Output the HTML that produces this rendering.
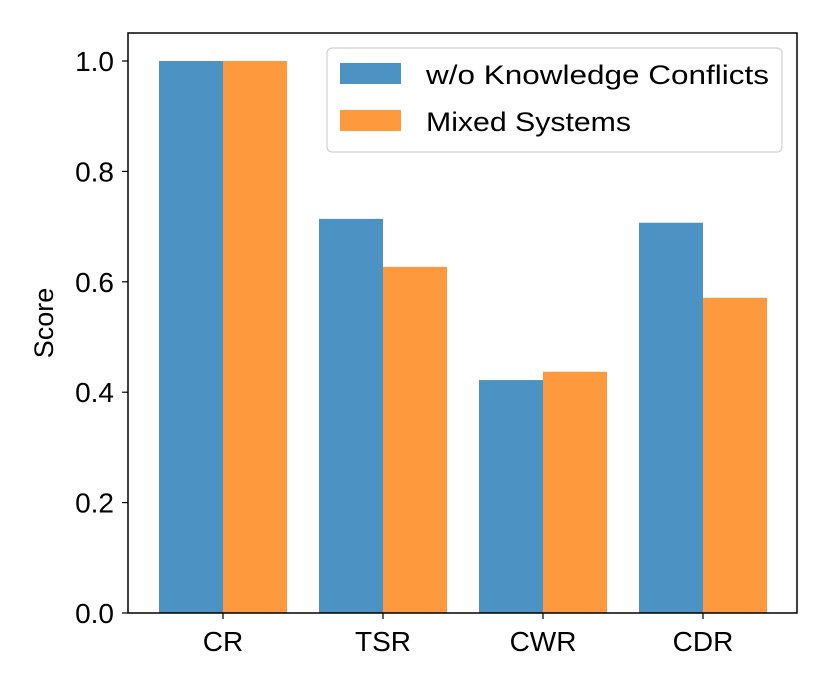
<!DOCTYPE html>
<html><head><meta charset="utf-8"><style>body{margin:0;background:#fff}svg{display:block;font-family:"Liberation Sans",sans-serif}</style></head>
<body>
<svg id="chart" width="830" height="692" viewBox="0 0 830 692"></svg>
<script>
const categories = ["CR","TSR","CWR","CDR"];
const seriesNames = ["w/o Knowledge Conflicts","Mixed Systems"];
const seriesA = [1.0,0.714,0.422,0.707];
const seriesB = [1.0,0.627,0.437,0.571];
const yTicks = [0,0.2,0.4,0.6,0.8,1.0];
const yTickLabels = ["0.0","0.2","0.4","0.6","0.8","1.0"];
const colors = ["#4c92c3","#ff993e"];
const svg = document.getElementById('chart');
const NS = "http://www.w3.org/2000/svg";
const L=128,R=797,T=33,B=613;
const x = i => 223 + 160*i;
const y = v => B - v*552;
function mk(tag, attrs, text){const e=document.createElementNS(NS,tag);for(const k in attrs)e.setAttribute(k,attrs[k]);if(text!==undefined)e.textContent=text;svg.appendChild(e);return e;}
[seriesA,seriesB].forEach((s,si)=>{
  s.forEach((v,i)=>{
    const bx = x(i) + (si===0?-64:0);
    const r = mk('rect',{x:bx,y:y(v),width:64,height:B-y(v),fill:colors[si]});
    
    
  });
});
const frame = mk('rect',{x:L,y:T,width:R-L,height:B-T,fill:'none',stroke:'#000','stroke-width':1.5});


yTicks.forEach((v,i)=>{
  const tk = mk('line',{x1:L-6,x2:L,y1:y(v),y2:y(v),stroke:'#000','stroke-width':1.2});
  
  
  const t = mk('text',{x:L-14,y:y(v)+10,'text-anchor':'end','font-size':28},yTickLabels[i]);
  
  
});
categories.forEach((c,i)=>{
  const tk = mk('line',{x1:x(i),x2:x(i),y1:B,y2:B+6,stroke:'#000','stroke-width':1.2});
  
  
  const t = mk('text',{x:x(i),y:651,'text-anchor':'middle','font-size':28},c);
  
  
});
const yt = mk('text',{x:0,y:0,'text-anchor':'middle','font-size':27,transform:'translate(53,323) rotate(-90)'},'Score');


const lg = mk('rect',{x:327,y:48,width:455,height:104,rx:5,fill:'#fff','fill-opacity':0.8,stroke:'#d0d0d0','stroke-width':1.2});


seriesNames.forEach((n,si)=>{
  const p = mk('rect',{x:340,y:63+47*si,width:61,height:21,fill:colors[si]});
  
  
  const t = mk('text',{x:426,y:84+47*si,'font-size':27,textLength:si===0?343:205,lengthAdjust:'spacingAndGlyphs'},n);
  
  
});
</script>
</body></html>
